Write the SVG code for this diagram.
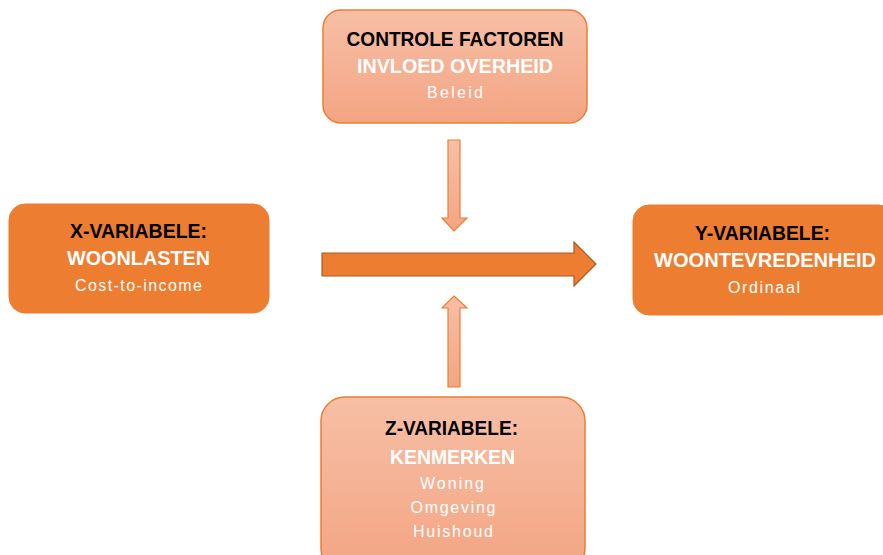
<svg xmlns="http://www.w3.org/2000/svg" width="883" height="555" viewBox="0 0 883 555">
<defs>
<linearGradient id="lg" x1="0" y1="0" x2="0" y2="1">
<stop offset="0" stop-color="#F7BFA6"/>
<stop offset="1" stop-color="#F3A583"/>
</linearGradient>
<style>
.dark{fill:#ED7D31;stroke:#ED7D31;stroke-width:1}
.light{fill:url(#lg);stroke:#ED7D31;stroke-width:1.5}
.h{font-family:"Liberation Sans",Arial,sans-serif;font-weight:bold;font-size:20px;text-anchor:middle}
.k{fill:#000}
.w{fill:#fff}
.s{font-family:"Liberation Sans",Arial,sans-serif;font-size:16px;fill:#fff;text-anchor:middle}
.arrL{fill:url(#lg);stroke:#ED7D31;stroke-width:1.2}
.arrD{fill:#ED7D31;stroke:#AE5A21;stroke-width:1.2}
</style>
</defs>
<rect width="883" height="555" fill="#fff"/>
<g id="connectors">
<polygon class="arrL" points="448,140 460,140 460,218 467,218 454,231 442,218 448,218"/>
<polygon class="arrL" points="454,296 467,308 460,308 460,387 448,387 448,308 442,308"/>
<polygon class="arrD" points="322,253 574,253 574,242 596,264 574,286 574,276 322,276"/>
</g>
<g id="controle">
<rect class="light" x="323" y="10" width="264" height="113" rx="18"/>
<text class="h k" x="455" y="46" textLength="217" lengthAdjust="spacingAndGlyphs">CONTROLE FACTOREN</text>
<text class="h w" x="455" y="73" textLength="196" lengthAdjust="spacingAndGlyphs">INVLOED OVERHEID</text>
<text class="s" x="455" y="98" textLength="56" lengthAdjust="spacing">Beleid</text>
</g>
<g id="xvar">
<rect class="dark" x="9" y="204" width="260" height="109" rx="16"/>
<text class="h k" x="138.5" y="238" textLength="137" lengthAdjust="spacingAndGlyphs">X-VARIABELE:</text>
<text class="h w" x="138.5" y="265" textLength="143" lengthAdjust="spacingAndGlyphs">WOONLASTEN</text>
<text class="s" x="138.5" y="291" textLength="127" lengthAdjust="spacing">Cost-to-income</text>
</g>
<g id="yvar">
<rect class="dark" x="633" y="205" width="262" height="110" rx="16"/>
<text class="h k" x="762.5" y="240" textLength="135" lengthAdjust="spacingAndGlyphs">Y-VARIABELE:</text>
<text class="h w" x="765" y="267" textLength="222" lengthAdjust="spacingAndGlyphs">WOONTEVREDENHEID</text>
<text class="s" x="764" y="293" textLength="72" lengthAdjust="spacing">Ordinaal</text>
</g>
<g id="zvar">
<rect class="light" x="321" y="397" width="264" height="175" rx="24"/>
<text class="h k" x="451.5" y="435" textLength="133" lengthAdjust="spacingAndGlyphs">Z-VARIABELE:</text>
<text class="h w" x="452.5" y="464" textLength="125" lengthAdjust="spacingAndGlyphs">KENMERKEN</text>
<text class="s" x="452" y="489" textLength="64" lengthAdjust="spacing">Woning</text>
<text class="s" x="453" y="513" textLength="85" lengthAdjust="spacing">Omgeving</text>
<text class="s" x="453" y="537" textLength="80" lengthAdjust="spacing">Huishoud</text>
</g>
</svg>
